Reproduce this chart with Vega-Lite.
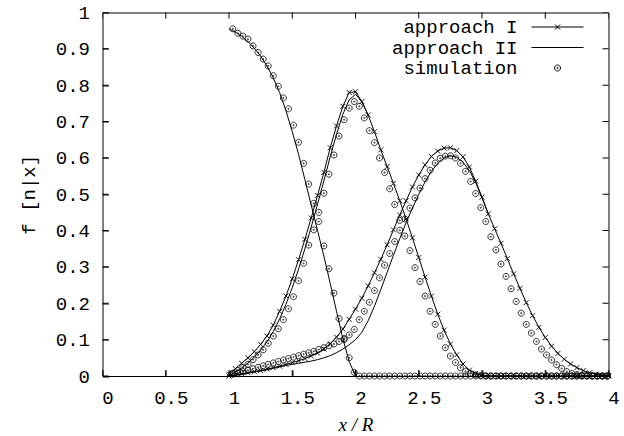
{
  "$schema": "https://vega.github.io/schema/vega-lite/v6.json",
  "autosize": {"type": "none"},
  "padding": {"left": 102.5, "top": 12.5, "right": 15.5, "bottom": 60},
  "width": 506,
  "height": 363.5,
  "background": "white",
  "config": {
    "view": {"stroke": "black", "strokeWidth": 1},
    "axis": {
      "grid": false,
      "labelFont": "Liberation Mono",
      "labelFontSize": 19,
      "labelColor": "black",
      "labelFlush": false,
      "labelOverlap": false,
      "format": "~g"
    }
  },
  "datasets": {
    "xt": [{"v":0},{"v":0.5},{"v":1},{"v":1.5},{"v":2},{"v":2.5},{"v":3},{"v":3.5},{"v":4}],
    "yt": [{"v":0},{"v":0.1},{"v":0.2},{"v":0.3},{"v":0.4},{"v":0.5},{"v":0.6},{"v":0.7},{"v":0.8},{"v":0.9},{"v":1}],
    "app": [
      {"s":"approach II","c":"A","x":1.00,"y":0.955},
      {"s":"approach II","c":"A","x":1.05,"y":0.946},
      {"s":"approach II","c":"A","x":1.10,"y":0.935},
      {"s":"approach II","c":"A","x":1.15,"y":0.92},
      {"s":"approach II","c":"A","x":1.20,"y":0.902},
      {"s":"approach II","c":"A","x":1.25,"y":0.88},
      {"s":"approach II","c":"A","x":1.30,"y":0.853},
      {"s":"approach II","c":"A","x":1.35,"y":0.82},
      {"s":"approach II","c":"A","x":1.40,"y":0.78},
      {"s":"approach II","c":"A","x":1.45,"y":0.73},
      {"s":"approach II","c":"A","x":1.50,"y":0.672},
      {"s":"approach II","c":"A","x":1.55,"y":0.61},
      {"s":"approach II","c":"A","x":1.60,"y":0.54},
      {"s":"approach II","c":"A","x":1.65,"y":0.47},
      {"s":"approach II","c":"A","x":1.70,"y":0.4},
      {"s":"approach II","c":"A","x":1.75,"y":0.33},
      {"s":"approach II","c":"A","x":1.80,"y":0.255},
      {"s":"approach II","c":"A","x":1.85,"y":0.178},
      {"s":"approach II","c":"A","x":1.90,"y":0.103},
      {"s":"approach II","c":"A","x":1.95,"y":0.04},
      {"s":"approach II","c":"A","x":2.00,"y":0},

      {"s":"approach I","c":"B","x":1.00,"y":0.005},
      {"s":"approach I","c":"B","x":1.05,"y":0.02},
      {"s":"approach I","c":"B","x":1.10,"y":0.035},
      {"s":"approach I","c":"B","x":1.15,"y":0.05},
      {"s":"approach I","c":"B","x":1.20,"y":0.067},
      {"s":"approach I","c":"B","x":1.25,"y":0.087},
      {"s":"approach I","c":"B","x":1.30,"y":0.11},
      {"s":"approach I","c":"B","x":1.35,"y":0.14},
      {"s":"approach I","c":"B","x":1.40,"y":0.178},
      {"s":"approach I","c":"B","x":1.45,"y":0.22},
      {"s":"approach I","c":"B","x":1.50,"y":0.267},
      {"s":"approach I","c":"B","x":1.55,"y":0.32},
      {"s":"approach I","c":"B","x":1.60,"y":0.376},
      {"s":"approach I","c":"B","x":1.65,"y":0.435},
      {"s":"approach I","c":"B","x":1.70,"y":0.497},
      {"s":"approach I","c":"B","x":1.75,"y":0.56},
      {"s":"approach I","c":"B","x":1.80,"y":0.628},
      {"s":"approach I","c":"B","x":1.85,"y":0.688},
      {"s":"approach I","c":"B","x":1.90,"y":0.742},
      {"s":"approach I","c":"B","x":1.95,"y":0.78},
      {"s":"approach I","c":"B","x":2.00,"y":0.782},
      {"s":"approach I","c":"B","x":2.05,"y":0.755},
      {"s":"approach I","c":"B","x":2.10,"y":0.718},
      {"s":"approach I","c":"B","x":2.15,"y":0.672},
      {"s":"approach I","c":"B","x":2.20,"y":0.622},
      {"s":"approach I","c":"B","x":2.25,"y":0.576},
      {"s":"approach I","c":"B","x":2.30,"y":0.53},
      {"s":"approach I","c":"B","x":2.35,"y":0.482},
      {"s":"approach I","c":"B","x":2.40,"y":0.432},
      {"s":"approach I","c":"B","x":2.45,"y":0.38},
      {"s":"approach I","c":"B","x":2.50,"y":0.326},
      {"s":"approach I","c":"B","x":2.55,"y":0.272},
      {"s":"approach I","c":"B","x":2.60,"y":0.22},
      {"s":"approach I","c":"B","x":2.65,"y":0.17},
      {"s":"approach I","c":"B","x":2.70,"y":0.126},
      {"s":"approach I","c":"B","x":2.75,"y":0.088},
      {"s":"approach I","c":"B","x":2.80,"y":0.058},
      {"s":"approach I","c":"B","x":2.85,"y":0.033},
      {"s":"approach I","c":"B","x":2.90,"y":0.016},
      {"s":"approach I","c":"B","x":2.95,"y":0.007},
      {"s":"approach I","c":"B","x":3.00,"y":0.002},
      {"s":"approach I","c":"B","x":3.05,"y":0},
      {"s":"approach I","c":"B","x":3.10,"y":0},
      {"s":"approach I","c":"B","x":3.15,"y":0},
      {"s":"approach I","c":"B","x":3.20,"y":0},
      {"s":"approach I","c":"B","x":3.25,"y":0},
      {"s":"approach I","c":"B","x":3.30,"y":0},
      {"s":"approach I","c":"B","x":3.35,"y":0},
      {"s":"approach I","c":"B","x":3.40,"y":0},
      {"s":"approach I","c":"B","x":3.45,"y":0},
      {"s":"approach I","c":"B","x":3.50,"y":0},
      {"s":"approach I","c":"B","x":3.55,"y":0},
      {"s":"approach I","c":"B","x":3.60,"y":0},
      {"s":"approach I","c":"B","x":3.65,"y":0},
      {"s":"approach I","c":"B","x":3.70,"y":0},
      {"s":"approach I","c":"B","x":3.75,"y":0},
      {"s":"approach I","c":"B","x":3.80,"y":0},
      {"s":"approach I","c":"B","x":3.85,"y":0},
      {"s":"approach I","c":"B","x":3.90,"y":0},
      {"s":"approach I","c":"B","x":3.95,"y":0},
      {"s":"approach I","c":"B","x":4.00,"y":0},

      {"s":"approach II","c":"B","x":1.00,"y":0},
      {"s":"approach II","c":"B","x":1.05,"y":0.01},
      {"s":"approach II","c":"B","x":1.10,"y":0.022},
      {"s":"approach II","c":"B","x":1.15,"y":0.036},
      {"s":"approach II","c":"B","x":1.20,"y":0.052},
      {"s":"approach II","c":"B","x":1.25,"y":0.071},
      {"s":"approach II","c":"B","x":1.30,"y":0.094},
      {"s":"approach II","c":"B","x":1.35,"y":0.122},
      {"s":"approach II","c":"B","x":1.40,"y":0.157},
      {"s":"approach II","c":"B","x":1.45,"y":0.197},
      {"s":"approach II","c":"B","x":1.50,"y":0.243},
      {"s":"approach II","c":"B","x":1.55,"y":0.294},
      {"s":"approach II","c":"B","x":1.60,"y":0.35},
      {"s":"approach II","c":"B","x":1.65,"y":0.41},
      {"s":"approach II","c":"B","x":1.70,"y":0.473},
      {"s":"approach II","c":"B","x":1.75,"y":0.537},
      {"s":"approach II","c":"B","x":1.80,"y":0.603},
      {"s":"approach II","c":"B","x":1.85,"y":0.665},
      {"s":"approach II","c":"B","x":1.90,"y":0.72},
      {"s":"approach II","c":"B","x":1.95,"y":0.76},
      {"s":"approach II","c":"B","x":2.00,"y":0.775},
      {"s":"approach II","c":"B","x":2.05,"y":0.755},
      {"s":"approach II","c":"B","x":2.10,"y":0.718},

      {"s":"approach I","c":"C","x":1.00,"y":0},
      {"s":"approach I","c":"C","x":1.05,"y":0.003},
      {"s":"approach I","c":"C","x":1.10,"y":0.006},
      {"s":"approach I","c":"C","x":1.15,"y":0.009},
      {"s":"approach I","c":"C","x":1.20,"y":0.012},
      {"s":"approach I","c":"C","x":1.25,"y":0.015},
      {"s":"approach I","c":"C","x":1.30,"y":0.019},
      {"s":"approach I","c":"C","x":1.35,"y":0.023},
      {"s":"approach I","c":"C","x":1.40,"y":0.027},
      {"s":"approach I","c":"C","x":1.45,"y":0.032},
      {"s":"approach I","c":"C","x":1.50,"y":0.037},
      {"s":"approach I","c":"C","x":1.55,"y":0.042},
      {"s":"approach I","c":"C","x":1.60,"y":0.048},
      {"s":"approach I","c":"C","x":1.65,"y":0.055},
      {"s":"approach I","c":"C","x":1.70,"y":0.063},
      {"s":"approach I","c":"C","x":1.75,"y":0.074},
      {"s":"approach I","c":"C","x":1.80,"y":0.089},
      {"s":"approach I","c":"C","x":1.85,"y":0.107},
      {"s":"approach I","c":"C","x":1.90,"y":0.129},
      {"s":"approach I","c":"C","x":1.95,"y":0.156},
      {"s":"approach I","c":"C","x":2.00,"y":0.184},
      {"s":"approach I","c":"C","x":2.05,"y":0.214},
      {"s":"approach I","c":"C","x":2.10,"y":0.248},
      {"s":"approach I","c":"C","x":2.15,"y":0.284},
      {"s":"approach I","c":"C","x":2.20,"y":0.321},
      {"s":"approach I","c":"C","x":2.25,"y":0.361},
      {"s":"approach I","c":"C","x":2.30,"y":0.402},
      {"s":"approach I","c":"C","x":2.35,"y":0.443},
      {"s":"approach I","c":"C","x":2.40,"y":0.482},
      {"s":"approach I","c":"C","x":2.45,"y":0.52},
      {"s":"approach I","c":"C","x":2.50,"y":0.553},
      {"s":"approach I","c":"C","x":2.55,"y":0.581},
      {"s":"approach I","c":"C","x":2.60,"y":0.604},
      {"s":"approach I","c":"C","x":2.65,"y":0.619},
      {"s":"approach I","c":"C","x":2.70,"y":0.627},
      {"s":"approach I","c":"C","x":2.75,"y":0.628},
      {"s":"approach I","c":"C","x":2.80,"y":0.62},
      {"s":"approach I","c":"C","x":2.85,"y":0.603},
      {"s":"approach I","c":"C","x":2.90,"y":0.575},
      {"s":"approach I","c":"C","x":2.95,"y":0.536},
      {"s":"approach I","c":"C","x":3.00,"y":0.492},
      {"s":"approach I","c":"C","x":3.05,"y":0.446},
      {"s":"approach I","c":"C","x":3.10,"y":0.405},
      {"s":"approach I","c":"C","x":3.15,"y":0.365},
      {"s":"approach I","c":"C","x":3.20,"y":0.323},
      {"s":"approach I","c":"C","x":3.25,"y":0.281},
      {"s":"approach I","c":"C","x":3.30,"y":0.241},
      {"s":"approach I","c":"C","x":3.35,"y":0.202},
      {"s":"approach I","c":"C","x":3.40,"y":0.166},
      {"s":"approach I","c":"C","x":3.45,"y":0.134},
      {"s":"approach I","c":"C","x":3.50,"y":0.106},
      {"s":"approach I","c":"C","x":3.55,"y":0.082},
      {"s":"approach I","c":"C","x":3.60,"y":0.062},
      {"s":"approach I","c":"C","x":3.65,"y":0.046},
      {"s":"approach I","c":"C","x":3.70,"y":0.033},
      {"s":"approach I","c":"C","x":3.75,"y":0.023},
      {"s":"approach I","c":"C","x":3.80,"y":0.015},
      {"s":"approach I","c":"C","x":3.85,"y":0.009},
      {"s":"approach I","c":"C","x":3.90,"y":0.005},
      {"s":"approach I","c":"C","x":3.95,"y":0.002},
      {"s":"approach I","c":"C","x":4.00,"y":0.001},

      {"s":"approach II","c":"C","x":1.00,"y":0},
      {"s":"approach II","c":"C","x":1.05,"y":0.002},
      {"s":"approach II","c":"C","x":1.10,"y":0.005},
      {"s":"approach II","c":"C","x":1.15,"y":0.008},
      {"s":"approach II","c":"C","x":1.20,"y":0.011},
      {"s":"approach II","c":"C","x":1.25,"y":0.014},
      {"s":"approach II","c":"C","x":1.30,"y":0.017},
      {"s":"approach II","c":"C","x":1.35,"y":0.021},
      {"s":"approach II","c":"C","x":1.40,"y":0.025},
      {"s":"approach II","c":"C","x":1.45,"y":0.029},
      {"s":"approach II","c":"C","x":1.50,"y":0.032},
      {"s":"approach II","c":"C","x":1.55,"y":0.035},
      {"s":"approach II","c":"C","x":1.60,"y":0.038},
      {"s":"approach II","c":"C","x":1.65,"y":0.041},
      {"s":"approach II","c":"C","x":1.70,"y":0.045},
      {"s":"approach II","c":"C","x":1.75,"y":0.05},
      {"s":"approach II","c":"C","x":1.80,"y":0.056},
      {"s":"approach II","c":"C","x":1.85,"y":0.064},
      {"s":"approach II","c":"C","x":1.90,"y":0.074},
      {"s":"approach II","c":"C","x":1.95,"y":0.086},
      {"s":"approach II","c":"C","x":2.00,"y":0.1},
      {"s":"approach II","c":"C","x":2.05,"y":0.12},
      {"s":"approach II","c":"C","x":2.10,"y":0.152},
      {"s":"approach II","c":"C","x":2.15,"y":0.192},
      {"s":"approach II","c":"C","x":2.20,"y":0.238},
      {"s":"approach II","c":"C","x":2.25,"y":0.285},
      {"s":"approach II","c":"C","x":2.30,"y":0.332},
      {"s":"approach II","c":"C","x":2.35,"y":0.378},
      {"s":"approach II","c":"C","x":2.40,"y":0.422},
      {"s":"approach II","c":"C","x":2.45,"y":0.462},
      {"s":"approach II","c":"C","x":2.50,"y":0.5},
      {"s":"approach II","c":"C","x":2.55,"y":0.534},
      {"s":"approach II","c":"C","x":2.60,"y":0.563},
      {"s":"approach II","c":"C","x":2.65,"y":0.585},
      {"s":"approach II","c":"C","x":2.70,"y":0.6},
      {"s":"approach II","c":"C","x":2.75,"y":0.606},
      {"s":"approach II","c":"C","x":2.80,"y":0.602},
      {"s":"approach II","c":"C","x":2.85,"y":0.588},
      {"s":"approach II","c":"C","x":2.90,"y":0.565},
      {"s":"approach II","c":"C","x":2.95,"y":0.532},
      {"s":"approach II","c":"C","x":3.00,"y":0.49},
      {"s":"approach II","c":"C","x":3.05,"y":0.446}
    ],
    "sim": [
      {"c":"A","x":1.03,"y":0.955},{"c":"A","x":1.07,"y":0.943},{"c":"A","x":1.11,"y":0.935},{"c":"A","x":1.15,"y":0.927},{"c":"A","x":1.19,"y":0.908},
      {"c":"A","x":1.23,"y":0.89},{"c":"A","x":1.27,"y":0.872},{"c":"A","x":1.31,"y":0.853},{"c":"A","x":1.35,"y":0.826},{"c":"A","x":1.39,"y":0.797},
      {"c":"A","x":1.43,"y":0.765},{"c":"A","x":1.47,"y":0.735},{"c":"A","x":1.51,"y":0.69},{"c":"A","x":1.55,"y":0.643},{"c":"A","x":1.59,"y":0.585},
      {"c":"A","x":1.63,"y":0.528},{"c":"A","x":1.67,"y":0.475},{"c":"A","x":1.71,"y":0.425},{"c":"A","x":1.75,"y":0.358},{"c":"A","x":1.79,"y":0.295},
      {"c":"A","x":1.83,"y":0.228},{"c":"A","x":1.87,"y":0.158},{"c":"A","x":1.91,"y":0.1},{"c":"A","x":1.95,"y":0.05},{"c":"A","x":1.99,"y":0.01},
      {"c":"A","x":2.03,"y":0},{"c":"A","x":2.07,"y":0},{"c":"A","x":2.11,"y":0},{"c":"A","x":2.15,"y":0},{"c":"A","x":2.19,"y":0},
      {"c":"A","x":2.23,"y":0},{"c":"A","x":2.27,"y":0},{"c":"A","x":2.31,"y":0},{"c":"A","x":2.35,"y":0},{"c":"A","x":2.39,"y":0},
      {"c":"A","x":2.43,"y":0},{"c":"A","x":2.47,"y":0},{"c":"A","x":2.51,"y":0},{"c":"A","x":2.55,"y":0},{"c":"A","x":2.59,"y":0},
      {"c":"A","x":2.63,"y":0},{"c":"A","x":2.67,"y":0},{"c":"A","x":2.71,"y":0},{"c":"A","x":2.75,"y":0},{"c":"A","x":2.79,"y":0},
      {"c":"A","x":2.83,"y":0},{"c":"A","x":2.87,"y":0},{"c":"A","x":2.91,"y":0},{"c":"A","x":2.95,"y":0},{"c":"A","x":2.99,"y":0},
      {"c":"A","x":3.03,"y":0},{"c":"A","x":3.07,"y":0},{"c":"A","x":3.11,"y":0},{"c":"A","x":3.15,"y":0},{"c":"A","x":3.19,"y":0},
      {"c":"A","x":3.23,"y":0},{"c":"A","x":3.27,"y":0},{"c":"A","x":3.31,"y":0},{"c":"A","x":3.35,"y":0},{"c":"A","x":3.39,"y":0},
      {"c":"A","x":3.43,"y":0},{"c":"A","x":3.47,"y":0},{"c":"A","x":3.51,"y":0},{"c":"A","x":3.55,"y":0},{"c":"A","x":3.59,"y":0},
      {"c":"A","x":3.63,"y":0},{"c":"A","x":3.67,"y":0},{"c":"A","x":3.71,"y":0},{"c":"A","x":3.75,"y":0},{"c":"A","x":3.79,"y":0},
      {"c":"A","x":3.83,"y":0},{"c":"A","x":3.87,"y":0},{"c":"A","x":3.91,"y":0},{"c":"A","x":3.95,"y":0},{"c":"A","x":3.99,"y":0},

      {"c":"B","x":1.03,"y":0.008},{"c":"B","x":1.07,"y":0.015},{"c":"B","x":1.11,"y":0.023},{"c":"B","x":1.15,"y":0.032},{"c":"B","x":1.19,"y":0.045},
      {"c":"B","x":1.23,"y":0.058},{"c":"B","x":1.27,"y":0.072},{"c":"B","x":1.31,"y":0.09},{"c":"B","x":1.35,"y":0.11},{"c":"B","x":1.39,"y":0.13},
      {"c":"B","x":1.43,"y":0.155},{"c":"B","x":1.47,"y":0.185},{"c":"B","x":1.51,"y":0.218},{"c":"B","x":1.55,"y":0.262},{"c":"B","x":1.59,"y":0.31},
      {"c":"B","x":1.63,"y":0.36},{"c":"B","x":1.67,"y":0.402},{"c":"B","x":1.71,"y":0.45},{"c":"B","x":1.75,"y":0.503},{"c":"B","x":1.79,"y":0.555},
      {"c":"B","x":1.83,"y":0.608},{"c":"B","x":1.87,"y":0.66},{"c":"B","x":1.91,"y":0.705},{"c":"B","x":1.95,"y":0.737},{"c":"B","x":1.99,"y":0.755},
      {"c":"B","x":2.03,"y":0.742},{"c":"B","x":2.07,"y":0.71},{"c":"B","x":2.11,"y":0.675},{"c":"B","x":2.15,"y":0.642},{"c":"B","x":2.19,"y":0.6},
      {"c":"B","x":2.23,"y":0.56},{"c":"B","x":2.27,"y":0.515},{"c":"B","x":2.31,"y":0.472},{"c":"B","x":2.35,"y":0.428},{"c":"B","x":2.39,"y":0.385},
      {"c":"B","x":2.43,"y":0.345},{"c":"B","x":2.47,"y":0.298},{"c":"B","x":2.51,"y":0.26},{"c":"B","x":2.55,"y":0.22},{"c":"B","x":2.59,"y":0.178},
      {"c":"B","x":2.63,"y":0.142},{"c":"B","x":2.67,"y":0.11},{"c":"B","x":2.71,"y":0.078},{"c":"B","x":2.75,"y":0.055},{"c":"B","x":2.79,"y":0.037},
      {"c":"B","x":2.83,"y":0.023},{"c":"B","x":2.87,"y":0.013},{"c":"B","x":2.91,"y":0.007},{"c":"B","x":2.95,"y":0.003},{"c":"B","x":2.99,"y":0.001},
      {"c":"B","x":3.03,"y":0},{"c":"B","x":3.07,"y":0},{"c":"B","x":3.11,"y":0},{"c":"B","x":3.15,"y":0},{"c":"B","x":3.19,"y":0},
      {"c":"B","x":3.23,"y":0},{"c":"B","x":3.27,"y":0},{"c":"B","x":3.31,"y":0},{"c":"B","x":3.35,"y":0},{"c":"B","x":3.39,"y":0},
      {"c":"B","x":3.43,"y":0},{"c":"B","x":3.47,"y":0},{"c":"B","x":3.51,"y":0},{"c":"B","x":3.55,"y":0},{"c":"B","x":3.59,"y":0},
      {"c":"B","x":3.63,"y":0},{"c":"B","x":3.67,"y":0},{"c":"B","x":3.71,"y":0},{"c":"B","x":3.75,"y":0},{"c":"B","x":3.79,"y":0},
      {"c":"B","x":3.83,"y":0},{"c":"B","x":3.87,"y":0},{"c":"B","x":3.91,"y":0},{"c":"B","x":3.95,"y":0},{"c":"B","x":3.99,"y":0},

      {"c":"C","x":1.03,"y":0.005},{"c":"C","x":1.07,"y":0.008},{"c":"C","x":1.11,"y":0.012},{"c":"C","x":1.15,"y":0.016},{"c":"C","x":1.19,"y":0.02},
      {"c":"C","x":1.23,"y":0.024},{"c":"C","x":1.27,"y":0.028},{"c":"C","x":1.31,"y":0.032},{"c":"C","x":1.35,"y":0.036},{"c":"C","x":1.39,"y":0.04},
      {"c":"C","x":1.43,"y":0.044},{"c":"C","x":1.47,"y":0.048},{"c":"C","x":1.51,"y":0.052},{"c":"C","x":1.55,"y":0.056},{"c":"C","x":1.59,"y":0.06},
      {"c":"C","x":1.63,"y":0.064},{"c":"C","x":1.67,"y":0.068},{"c":"C","x":1.71,"y":0.073},{"c":"C","x":1.75,"y":0.078},{"c":"C","x":1.79,"y":0.083},
      {"c":"C","x":1.83,"y":0.088},{"c":"C","x":1.87,"y":0.095},{"c":"C","x":1.91,"y":0.103},{"c":"C","x":1.95,"y":0.113},{"c":"C","x":1.99,"y":0.128},
      {"c":"C","x":2.03,"y":0.155},{"c":"C","x":2.07,"y":0.178},{"c":"C","x":2.11,"y":0.203},{"c":"C","x":2.15,"y":0.235},{"c":"C","x":2.19,"y":0.27},
      {"c":"C","x":2.23,"y":0.305},{"c":"C","x":2.27,"y":0.337},{"c":"C","x":2.31,"y":0.37},{"c":"C","x":2.35,"y":0.401},{"c":"C","x":2.39,"y":0.432},
      {"c":"C","x":2.43,"y":0.462},{"c":"C","x":2.47,"y":0.49},{"c":"C","x":2.51,"y":0.517},{"c":"C","x":2.55,"y":0.543},{"c":"C","x":2.59,"y":0.566},
      {"c":"C","x":2.63,"y":0.586},{"c":"C","x":2.67,"y":0.599},{"c":"C","x":2.71,"y":0.605},{"c":"C","x":2.75,"y":0.606},{"c":"C","x":2.79,"y":0.6},
      {"c":"C","x":2.83,"y":0.585},{"c":"C","x":2.87,"y":0.563},{"c":"C","x":2.91,"y":0.535},{"c":"C","x":2.95,"y":0.502},{"c":"C","x":2.99,"y":0.463},
      {"c":"C","x":3.03,"y":0.425},{"c":"C","x":3.07,"y":0.383},{"c":"C","x":3.11,"y":0.347},{"c":"C","x":3.15,"y":0.308},{"c":"C","x":3.19,"y":0.274},
      {"c":"C","x":3.23,"y":0.24},{"c":"C","x":3.27,"y":0.205},{"c":"C","x":3.31,"y":0.173},{"c":"C","x":3.35,"y":0.142},{"c":"C","x":3.39,"y":0.118},
      {"c":"C","x":3.43,"y":0.095},{"c":"C","x":3.47,"y":0.074},{"c":"C","x":3.51,"y":0.058},{"c":"C","x":3.55,"y":0.044},{"c":"C","x":3.59,"y":0.031},
      {"c":"C","x":3.63,"y":0.021},{"c":"C","x":3.67,"y":0.012},{"c":"C","x":3.71,"y":0.007},{"c":"C","x":3.75,"y":0.004},{"c":"C","x":3.79,"y":0.002},
      {"c":"C","x":3.83,"y":0.001},{"c":"C","x":3.87,"y":0},{"c":"C","x":3.91,"y":0},{"c":"C","x":3.95,"y":0},{"c":"C","x":3.99,"y":0}
    ]
  },
  "resolve": {"axis": {"x": "independent", "y": "independent"}},
  "layer": [
    {
      "data": {"name": "app"},
      "mark": {"type": "line", "color": "black", "strokeWidth": 1},
      "encoding": {
        "x": {
          "field": "x", "type": "quantitative",
          "scale": {"domain": [0, 4], "nice": false, "zero": false},
          "axis": {
            "orient": "bottom",
            "values": [0, 0.5, 1, 1.5, 2, 2.5, 3, 3.5, 4],
            "domain": false,
            "tickSize": 6,
            "offset": -6,
            "tickColor": "black",
            "labelPadding": 12,
            "labelOffset": 5,
            "title": "x / R",
            "titleFont": "Liberation Serif",
            "titleFontStyle": "italic",
            "titleFontWeight": "normal",
            "titleFontSize": 19,
            "titleColor": "black",
            "titlePadding": 8
          }
        },
        "y": {
          "field": "y", "type": "quantitative",
          "scale": {"domain": [0, 1], "nice": false},
          "axis": {
            "orient": "left",
            "values": [0, 0.1, 0.2, 0.3, 0.4, 0.5, 0.6, 0.7, 0.8, 0.9, 1],
            "domain": false,
            "tickSize": 6,
            "offset": -6,
            "tickColor": "black",
            "labelPadding": 13,
            "title": "f [n|x]",
            "titleFont": "Liberation Mono",
            "titleFontWeight": "normal",
            "titleFontSize": 19,
            "titleColor": "black",
            "titlePadding": 17
          }
        },
        "detail": [{"field": "c"}, {"field": "s"}],
        "order": {"field": "x", "type": "quantitative"}
      }
    },
    {
      "data": {"name": "app"},
      "transform": [{"filter": "datum.s === 'approach I'"}],
      "mark": {
        "type": "point", "shape": "M-1,-1L1,1M-1,1L1,-1",
        "filled": false, "stroke": "black", "strokeWidth": 0.9, "size": 25, "opacity": 1
      },
      "encoding": {
        "x": {"field": "x", "type": "quantitative", "axis": null},
        "y": {"field": "y", "type": "quantitative", "axis": null}
      }
    },
    {
      "data": {"name": "sim"},
      "mark": {
        "type": "point",
        "shape": "M1,0A1,1,0,1,1,-1,0A1,1,0,1,1,1,0ZM0.2,0A0.2,0.2,0,1,1,-0.2,0A0.2,0.2,0,1,1,0.2,0Z",
        "filled": false, "stroke": "black", "strokeWidth": 0.8, "size": 36, "opacity": 1
      },
      "encoding": {
        "x": {"field": "x", "type": "quantitative", "axis": null},
        "y": {"field": "y", "type": "quantitative", "axis": null},
        "detail": {"field": "c"}
      }
    },
    {
      "description": "inward tick marks on the bottom border, at the x tick values",
      "data": {"name": "xt"},
      "mark": {"type": "tick", "orient": "vertical", "color": "black", "size": 12, "thickness": 1, "opacity": 1, "clip": true},
      "encoding": {
        "x": {"field": "v", "type": "quantitative", "axis": null},
        "y": {"datum": 0, "type": "quantitative", "axis": null}
      }
    },
    {
      "description": "mirrored tick marks on the top border",
      "data": {"name": "xt"},
      "mark": {"type": "tick", "orient": "vertical", "color": "black", "size": 12, "thickness": 1, "opacity": 1, "clip": true},
      "encoding": {
        "x": {"field": "v", "type": "quantitative", "axis": null},
        "y": {"datum": 1, "type": "quantitative", "axis": null}
      }
    },
    {
      "description": "inward tick marks on the left border, at the y tick values",
      "data": {"name": "yt"},
      "mark": {"type": "tick", "orient": "horizontal", "color": "black", "size": 12, "thickness": 1, "opacity": 1, "clip": true},
      "encoding": {
        "y": {"field": "v", "type": "quantitative", "axis": null},
        "x": {"datum": 0, "type": "quantitative", "axis": null}
      }
    },
    {
      "description": "mirrored tick marks on the right border",
      "data": {"name": "yt"},
      "mark": {"type": "tick", "orient": "horizontal", "color": "black", "size": 12, "thickness": 1, "opacity": 1, "clip": true},
      "encoding": {
        "y": {"field": "v", "type": "quantitative", "axis": null},
        "x": {"datum": 4, "type": "quantitative", "axis": null}
      }
    },
    {
      "description": "key layer: draws no marks, only carries the legend for the three series",
      "data": {"name": "app"},
      "transform": [{"filter": "false"}],
      "mark": {"type": "point", "filled": false, "stroke": "black", "strokeWidth": 1, "opacity": 1},
      "encoding": {
        "x": {"field": "x", "type": "quantitative", "axis": null},
        "y": {"field": "y", "type": "quantitative", "axis": null},
        "shape": {
          "field": "s", "type": "nominal",
          "scale": {
            "domain": ["approach I", "approach II", "simulation"],
            "range": [
              "M-5.2,0H5.2M-0.5,-0.5L0.5,0.5M-0.5,0.5L0.5,-0.5",
              "M-5.2,0H5.2",
              "M0.6,0A0.6,0.6,0,1,1,-0.6,0A0.6,0.6,0,1,1,0.6,0ZM0.12,0A0.12,0.12,0,1,1,-0.12,0A0.12,0.12,0,1,1,0.12,0Z"
            ]
          },
          "legend": {
            "title": null,
            "orient": "none",
            "legendX": 445.5,
            "legendY": 5,
            "padding": 0,
            "symbolSize": 100,
            "symbolOffset": 0,
            "symbolStrokeWidth": 1,
            "symbolStrokeColor": "black",
            "symbolFillColor": "transparent",
            "symbolOpacity": 1,
            "rowPadding": 0.5,
            "labelFont": "Liberation Mono",
            "labelFontSize": 19,
            "labelColor": "black",
            "labelAlign": "right",
            "labelOffset": -49.5,
            "labelLimit": 300
          }
        }
      }
    }
  ]
}
